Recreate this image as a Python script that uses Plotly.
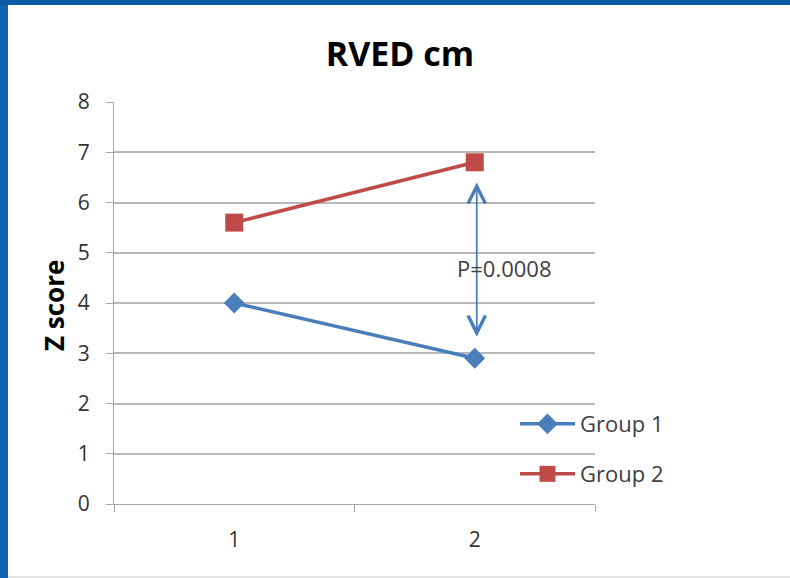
import plotly.graph_objects as go

# ---- data ----
categories = ["1", "2"]
group1 = [4.0, 2.9]
group2 = [5.6, 6.8]
y_ticks = [0, 1, 2, 3, 4, 5, 6, 7, 8]
series_names = ["Group 1", "Group 2"]
p_label = "P=0.0008"
arrow_cat_index = 1          # category "2"
arrow_from = 3.3
arrow_to = 6.4
p_label_y = 4.7

BLUE = "#4a7ebb"
RED = "#be4b48"
FONT = "Open Sans"

W, H = 790, 578
L, R, T, B = 114, 195, 102, 74
pw, ph = W - L - R, H - T - B

def px_x(p):
    return (p - L) / pw

def px_y(p):
    return (H - B - p) / ph

fig = go.Figure()
fig.add_trace(go.Scatter(
    x=categories, y=group1, name=series_names[0], mode="lines+markers",
    line=dict(color=BLUE, width=3.5),
    marker=dict(symbol="diamond", size=16, color=BLUE),
    legend="legend",
))
fig.add_trace(go.Scatter(
    x=categories, y=group2, name=series_names[1], mode="lines+markers",
    line=dict(color=RED, width=3.5),
    marker=dict(symbol="square", size=18, color=RED),
    legend="legend2",
))

fig.add_annotation(
    x=arrow_cat_index, y=arrow_to, ax=arrow_cat_index, ay=arrow_from,
    xref="x", yref="y", axref="x", ayref="y",
    text="", showarrow=True, arrowside="end+start", arrowhead=5,
    arrowsize=1.9, arrowwidth=1.8, arrowcolor=BLUE,
    standoff=0, startstandoff=0, xshift=2,
)
fig.add_annotation(
    x=arrow_cat_index, y=p_label_y, xref="x", yref="y",
    text=p_label, showarrow=False, xshift=30,
    font=dict(family=FONT, size=22, color="#404040"),
)
fig.add_annotation(
    x=px_x(54), y=px_y(306), xref="paper", yref="paper",
    xanchor="center", yanchor="middle",
    text="<b>Z score</b>", textangle=-90, showarrow=False,
    font=dict(family=FONT, size=26, color="#000000"),
)

# page decorations (blue frame edges)
fig.add_shape(type="rect", xref="paper", yref="paper",
              x0=px_x(0), x1=px_x(8), y0=px_y(H), y1=px_y(0),
              fillcolor="#0e62ae", line=dict(width=0), layer="above")
fig.add_shape(type="rect", xref="paper", yref="paper",
              x0=px_x(0), x1=px_x(W), y0=px_y(5), y1=px_y(0),
              fillcolor="#0a5aa5", line=dict(width=0), layer="above")
fig.add_shape(type="line", xref="paper", yref="paper",
              x0=px_x(8), x1=px_x(W), y0=px_y(577), y1=px_y(577),
              line=dict(color="#c8c8c8", width=1), layer="above")

fig.update_layout(
    width=W, height=H,
    margin=dict(l=L, r=R, t=T, b=B, pad=0),
    paper_bgcolor="white", plot_bgcolor="white",
    font=dict(family=FONT, color="#404040"),
    title=dict(text="<b>RVED cm</b>", x=400 / W, xref="container", xanchor="center",
               y=1 - 54 / H, yref="container", yanchor="middle",
               font=dict(family=FONT, size=34, color="#000000")),
    xaxis=dict(type="category", categoryorder="array", categoryarray=categories,
               range=[-0.5, 1.5], tickson="boundaries", ticks="outside", ticklen=7,
               tickcolor="#a6a6a6", showgrid=False, showline=True, linecolor="#a6a6a6",
               linewidth=1, tickfont=dict(family=FONT, size=21, color="#333333"),
               ticklabelstandoff=17, zeroline=False, fixedrange=True),
    yaxis=dict(range=[0, 8], tickvals=y_ticks, ticks="outside", ticklen=7,
               tickcolor="#a6a6a6", showgrid=True, gridcolor="#b8b8b8", gridwidth=1.5,
               showline=True, linecolor="#a6a6a6", linewidth=1, zeroline=False,
               tickfont=dict(family=FONT, size=21, color="#333333"),
               ticklabelstandoff=12, fixedrange=True),
    legend=dict(x=px_x(515), y=px_y(424), xanchor="left", yanchor="middle",
                bgcolor="rgba(0,0,0,0)", itemwidth=55,
                font=dict(family=FONT, size=22, color="#404040")),
    legend2=dict(x=px_x(515), y=px_y(474), xanchor="left", yanchor="middle",
                 bgcolor="rgba(0,0,0,0)", itemwidth=55,
                 font=dict(family=FONT, size=22, color="#404040")),
    showlegend=True,
)

fig.write_html("out.html")
